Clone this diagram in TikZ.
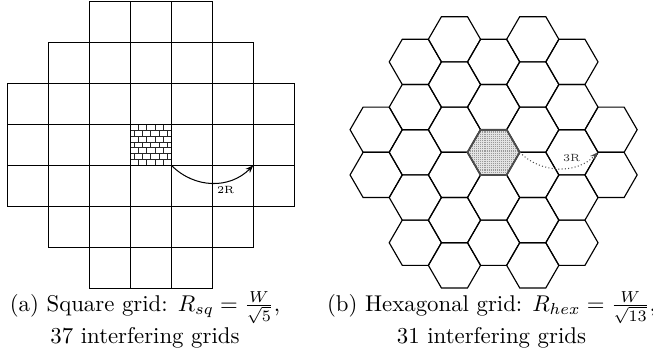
\documentclass[tikz,border=0pt]{standalone}
\usetikzlibrary{patterns,arrows.meta}
\begin{document}
\begin{tikzpicture}[x=0.4386pt,y=-0.4386pt,
  cell/.style={draw=black,line width=0.5pt},
  hexcell/.style={draw=black,line width=0.5pt},
  brick/.style={draw=black!85,line width=0.28pt},
  sand/.style={draw=gray!80,line width=0.35pt,dash pattern=on 0.45pt off 0.45pt},
  lbl/.style={font=\fontsize{4.6}{5}\selectfont,inner sep=0pt},
  captxt/.style={anchor=base,inner sep=0pt,font=\normalsize},
  arcline/.style={line width=0.45pt,-{Stealth[length=3.5pt,width=2.6pt]}}]
\useasboundingbox (0,0) rectangle (653,360);

% ---------- square grid ----------
\begin{scope}
\clip (130.3,124.3) rectangle (171.3,165.3);
\foreach \j in {1,...,6} \draw[brick] (130.3,{124.3+5.857*\j}) -- ++(41,0);
\foreach \j in {0,...,6}{
  \pgfmathsetmacro\off{mod(\j,2)*4.1}
  \foreach \i in {0,...,5}
    \draw[brick] ({130.3+\off+8.2*\i},{124.3+5.857*\j}) -- ++(0,5.857);
}
\end{scope}
\foreach \r/\a/\b in {0/2/4,1/1/5,2/0/6,3/0/6,4/0/6,5/1/5,6/2/4}{
  \foreach \c in {\a,...,\b}{
    \draw[cell] ({7.3+41*\c},{1.3+41*\r}) rectangle ++(41,41);
  }
}
\coordinate (sqA) at (171.3,165.3);
\coordinate (sqB) at (253.3,165.3);
\draw[arcline] (sqA) .. controls (195,189) and (230,189) .. (sqB);
\node[lbl] (lab2R) at (225.7,190) {2R};

% ---------- hexagonal grid ----------
\begin{scope}
\clip (519.7,152.3) -- ++(120:26.1) -- ++(180:26.1) -- ++(240:26.1) -- ++(300:26.1) -- ++(0:26.1) -- cycle;
\fill[gray!22] (466,128) rectangle (521,177);
\foreach \j in {0,...,24} \draw[sand] (466,{129+1.9*\j}) -- (521,{129+1.9*\j});
\end{scope}
\foreach \c/\kmin/\kmax/\s in {-3/-1/0/0.5, -2/-2/2/0, -1/-3/2/0.5, 0/-2/2/0, 1/-3/2/0.5, 2/-2/2/0, 3/-1/0/0.5}{
  \foreach \k in {\kmin,...,\kmax}{
    \draw[hexcell] ({493.6+39.15*\c+26.1},{152.3+45.21*(\k+\s)}) -- ++(120:26.1) -- ++(180:26.1) -- ++(240:26.1) -- ++(300:26.1) -- ++(0:26.1) -- cycle;
  }
}
\draw[draw=gray!60!black,line width=0.8pt] (519.7,152.3) -- ++(120:26.1) -- ++(180:26.1) -- ++(240:26.1) -- ++(300:26.1) -- ++(0:26.1) -- cycle;
\coordinate (hxA) at (519.7,152.3);
\coordinate (hxB) at (597.9,152.3);
\draw[arcline,densely dotted,draw=gray!60!black] (hxA) .. controls (541,174) and (577,174) .. (hxB);
\node[lbl,text=gray!40!black] (lab3R) at (571.7,158) {3R};

% ---------- captions ----------
\node[captxt] (capa1) at (145,311) {(a) Square grid: $R_{sq} = \frac{W}{\sqrt{5}}$,};
\node[captxt] (capa2) at (145,343) {37 interfering grids};
\node[captxt] (capb1) at (491.5,311) {(b) Hexagonal grid: $R_{hex} = \frac{W}{\sqrt{13}}$,};
\node[captxt] (capb2) at (491.5,343) {31 interfering grids};
\end{tikzpicture}
\end{document}
